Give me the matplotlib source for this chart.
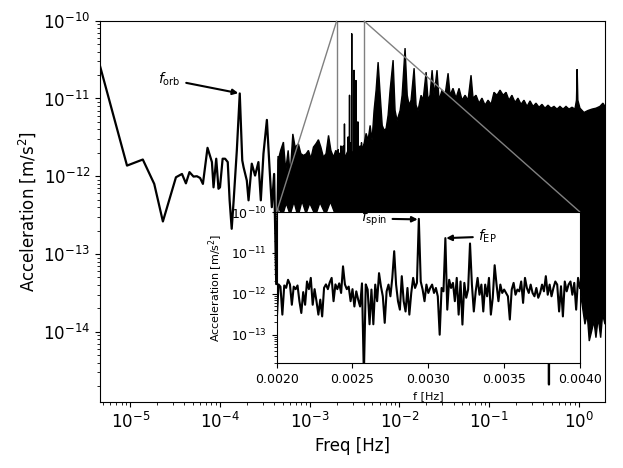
import numpy as np
import matplotlib
matplotlib.use("Agg")
import matplotlib.pyplot as plt
from matplotlib.patches import Rectangle
from matplotlib.ticker import MultipleLocator, FormatStrFormatter
from mpl_toolkits.axes_grid1.inset_locator import mark_inset

# ---------------- data ----------------
# low-frequency part of the spectrum (individual points visible)
low_f = [4.6e-6, 9.2e-6, 1.38e-5, 1.85e-5, 2.31e-5, 3.23e-5, 3.77e-5, 4.17e-5,
         4.57e-5, 5.07e-5, 5.53e-5, 6.0e-5, 6.45e-5, 7.26e-5, 8.13e-5, 8.47e-5,
         9.08e-5, 9.62e-5, 1.0e-4, 1.07e-4, 1.14e-4, 1.22e-4, 1.28e-4, 1.35e-4,
         1.42e-4, 1.54e-4, 1.66e-4, 1.77e-4, 1.83e-4, 1.99e-4, 2.08e-4, 2.26e-4,
         2.46e-4, 2.68e-4, 2.85e-4, 3.05e-4, 3.33e-4, 3.56e-4, 3.78e-4, 4.01e-4,
         4.23e-4, 4.48e-4]
low_a = [2.62e-11, 1.37e-12, 1.64e-12, 7.97e-13, 2.62e-13, 9.7e-13, 1.07e-12, 8.1e-13,
         1.13e-12, 9.9e-13, 1.0e-12, 9.5e-13, 7.97e-13, 2.32e-12, 1.52e-12, 7.2e-13,
         1.68e-12, 6.9e-13, 7.2e-13, 1.68e-12, 1.68e-12, 1.52e-12, 4.9e-13, 2.11e-13,
         4.9e-13, 2.15e-12, 1.16e-11, 1.6e-12, 1.31e-12, 8.8e-13, 4.9e-13, 1.45e-12,
         1.02e-12, 1.52e-12, 4.9e-13, 1.95e-12, 5.3e-12, 1.31e-12, 4.0e-13, 1.07e-12,
         4.1e-14, 1.76e-12]

# dense high-frequency band: upper envelope
up_f = [4.45e-4, 4.74e-4, 5.09e-4, 5.4e-4, 5.75e-4, 6.05e-4, 6.48e-4, 6.87e-4,
        7.48e-4, 7.96e-4, 8.51e-4, 9.12e-4, 9.67e-4, 1.03e-3, 1.1e-3, 1.18e-3,
        1.25e-3, 1.33e-3, 1.42e-3, 1.52e-3, 1.62e-3, 1.72e-3, 1.84e-3, 1.95e-3,
        2.1e-3, 2.3e-3, 2.5e-3, 2.7e-3, 2.9e-3, 3.1e-3, 3.3e-3, 3.5e-3, 3.7e-3, 3.9e-3,
        4.04e-3, 4.25e-3, 4.47e-3, 4.71e-3, 4.95e-3, 5.21e-3, 5.49e-3, 5.78e-3,
        6.1e-3, 6.42e-3, 6.75e-3, 7.1e-3, 7.47e-3, 7.86e-3, 8.49e-3, 8.93e-3,
        9.4e-3, 1.016e-2, 1.07e-2, 1.154e-2, 1.22e-2, 1.28e-2, 1.346e-2, 1.455e-2,
        1.53e-2, 1.61e-2, 1.74e-2, 1.833e-2, 1.98e-2, 2.08e-2, 2.19e-2, 2.31e-2,
        2.43e-2, 2.62e-2, 2.76e-2, 2.98e-2, 3.22e-2, 3.48e-2, 3.66e-2, 3.95e-2,
        4.27e-2, 4.61e-2, 4.98e-2, 5.38e-2, 5.81e-2, 6.27e-2, 6.6e-2, 7.13e-2,
        7.7e-2, 8.3e-2, 8.98e-2, 9.7e-2, 0.105, 0.113, 0.122, 0.132, 0.143, 0.154,
        0.166, 0.179, 0.194, 0.209, 0.226, 0.244, 0.264, 0.285, 0.308, 0.332, 0.359,
        0.387, 0.418, 0.452, 0.488, 0.527, 0.569, 0.614, 0.664, 0.717, 0.774, 0.836,
        0.902, 0.938, 0.955, 0.972, 1.026, 1.137, 1.26, 1.40, 1.55, 1.71, 1.85, 1.95]
up_a = [1.6e-12, 2.15e-12, 2.75e-12, 1.19e-12, 2.15e-12, 1.02e-12, 3.5e-12, 2.37e-12,
        2.6e-12, 1.95e-12, 1.85e-12, 1.94e-12, 2.15e-12, 1.69e-12, 2.37e-12, 2.64e-12,
        2.95e-12, 2.37e-12, 1.76e-12, 1.95e-12, 3.35e-12, 2.15e-12, 1.76e-12, 2.15e-12,
        1.9e-12, 2.1e-12, 1.8e-12, 2.2e-12, 2.0e-12, 2.1e-12, 1.9e-12, 2.2e-12, 2.3e-12, 2.4e-12,
        2.64e-12, 3.56e-12, 2.9e-12, 4.5e-12, 2.9e-12, 7.0e-12, 1.28e-11, 2.93e-11,
        1.1e-11, 4.5e-12, 3.9e-12, 4.1e-12, 6.1e-12, 1.28e-11, 3.11e-11, 7.0e-12,
        5.2e-12, 7.0e-12, 1.1e-11, 4.44e-11, 1.1e-11, 8.2e-12, 9.5e-12, 2.45e-11,
        8.2e-12, 7.0e-12, 1.1e-11, 9.5e-12, 2.18e-11, 9.5e-12, 1.1e-11, 2.31e-11,
        1.1e-11, 2.31e-11, 9.5e-12, 1.28e-11, 1.1e-11, 2.11e-11, 1.1e-11, 1.35e-11,
        1.01e-11, 1.35e-11, 9.5e-12, 1.1e-11, 9.5e-12, 1.99e-11, 1.01e-11, 1.1e-11,
        8.7e-12, 1.01e-11, 8.2e-12, 9.5e-12, 8.4e-12, 1.2e-11, 1.1e-11, 1.28e-11, 1.1e-11, 1.2e-11,
        9.5e-12, 1.1e-11, 8.9e-12, 1.01e-11, 8.4e-12, 9.5e-12, 7.9e-12, 9.3e-12, 7.9e-12, 8.7e-12, 7.7e-12,
        8.4e-12, 7.5e-12, 8.2e-12, 7.5e-12, 7.9e-12, 7.3e-12, 7.9e-12, 7.3e-12, 7.9e-12, 7.3e-12, 7.7e-12,
        7.3e-12, 9.5e-12, 2.38e-11, 9.5e-12, 7.5e-12, 6.6e-12, 7.0e-12, 7.3e-12, 7.5e-12, 7.9e-12, 8.7e-12, 7.9e-12]

# dense high-frequency band: lower envelope
lo_f = [4.45e-4, 4.93e-4, 5.47e-4, 6.05e-4, 6.68e-4, 7.4e-4, 8.2e-4, 9.1e-4,
        1.0e-3, 1.16e-3, 1.3e-3, 1.5e-3, 1.7e-3, 1.97e-3, 2.2e-3, 1.0e-2, 0.1, 1.0,
        1.07, 1.166, 1.237, 1.302, 1.385, 1.469, 1.546, 1.64, 1.745, 1.835, 1.95]
lo_a = [4.2e-13, 3.0e-13, 4.5e-13, 3.2e-13, 4.7e-13, 3.0e-13, 4.8e-13, 3.3e-13,
        4.5e-13, 3.1e-13, 4.6e-13, 3.2e-13, 4.7e-13, 3.0e-13, 1e-13, 5e-14, 5e-14, 5e-14,
        2.5e-14, 1.25e-14, 1.68e-14, 7.6e-15, 1.02e-14, 1.37e-14, 8.4e-15, 1.52e-14,
        8.4e-15, 1.68e-14, 1.25e-14]

# deep single-bin dip near 0.46 Hz
dip_f = [0.458, 0.463, 0.468]
dip_a = [5e-14, 2.1e-15, 5e-14]

# zoomed band 2-4 mHz (evenly spaced bins)
ins_lo, ins_hi = 0.002, 0.004
ins_a = [2.1e-13, 1.7e-12, 1.5e-12, 3.1e-13, 1.6e-12, 1.4e-12, 2.2e-12, 1.7e-12, 5.4e-13, 1.5e-12,
         1.3e-12, 1.6e-12, 6.6e-13, 3.4e-13, 1.1e-12, 5.4e-13, 2.0e-12, 1.3e-12, 2.45e-12, 5.4e-13,
         1.3e-12, 6.6e-13, 3.1e-13, 7.2e-13, 2.8e-13, 1.4e-12, 1.7e-12, 1.3e-12, 1.9e-12, 2.45e-12,
         6.6e-13, 1.7e-12, 1.3e-12, 1.8e-12, 1.05e-12, 4.7e-12, 1.7e-12, 1.3e-12, 1.5e-12, 6.6e-13,
         1.3e-12, 4.9e-13, 1.15e-12, 7.2e-13, 4.9e-13, 1.8e-12, 1.0e-14, 1.7e-12, 1.27e-12, 1.8e-13,
         1.27e-12, 1.8e-13, 1.68e-12, 6.6e-13, 3.2e-12, 1.53e-12, 8.7e-13, 1.95e-13, 1.15e-12, 1.68e-12,
         8.7e-13, 2.45e-12, 1.1e-11, 1.68e-12, 6.6e-13, 4.1e-13, 2.7e-12, 6.6e-13, 3.7e-13, 1.39e-12,
         3.1e-13, 1.05e-12, 2.45e-12, 1.39e-12, 1.85e-12, 6.8e-11, 2.0e-12, 1.27e-12, 6.6e-13, 1.68e-12,
         1.05e-12, 1.39e-12, 1.68e-12, 1.05e-12, 1.39e-12, 8.7e-13, 1.0e-13, 1.39e-12, 1.15e-12, 2.3e-11,
         4.1e-13, 2.2e-12, 1.39e-12, 1.85e-12, 6.6e-13, 2.45e-12, 3.1e-13, 2.0e-12, 1.77e-13, 1.85e-12,
         8.0e-13, 1.27e-12, 1.7e-11, 1.68e-12, 3.7e-13, 1.15e-12, 2.45e-12, 9.5e-13, 1.68e-12, 3.7e-13,
         1.68e-12, 8.7e-13, 2.45e-12, 3.1e-13, 8.0e-13, 5.0e-12, 1.68e-12, 6.6e-13, 1.68e-12, 1.05e-12,
         1.27e-12, 1.05e-12, 8.7e-13, 2.35e-13, 1.27e-12, 1.85e-12, 9.5e-13, 1.27e-12, 1.15e-12, 2.0e-12,
         6.0e-13, 2.45e-12, 1.39e-12, 1.05e-12, 1.68e-12, 1.05e-12, 8.7e-13, 1.39e-12, 8.0e-13, 1.05e-12,
         1.68e-12, 1.15e-12, 2.7e-12, 9.5e-13, 1.68e-12, 8.7e-13, 1.39e-12, 2.0e-12, 1.68e-12, 3.7e-13,
         1.53e-12, 2.8e-13, 2.0e-12, 1.15e-12, 1.68e-12, 2.0e-12, 9.5e-13, 1.85e-12, 4.1e-13, 2.45e-12,
         1.39e-12]
ins_f = np.linspace(ins_lo, ins_hi, len(ins_a))
ins_xticks = [0.0020, 0.0025, 0.0030, 0.0035, 0.0040]

main_xlim = (4.6e-6, 1.95)
main_ylim = (1.25e-15, 1e-10)
ins_ylim = (2e-14, 1e-10)
box_bottom = 1e-13

# ---------------- figure ----------------
fig = plt.figure(figsize=(6.23, 4.68), dpi=100)
ax = fig.add_axes([0.1605, 0.141, 0.8106, 0.8148])

ax.fill(np.r_[up_f, lo_f[::-1]], np.r_[up_a, lo_a[::-1]], color='black', lw=1, zorder=2)
ax.plot(low_f, low_a, color='black', lw=1.6, zorder=3)
ax.plot(ins_f, ins_a, color='black', lw=1.0, zorder=3)
ax.plot(dip_f, dip_a, color='black', lw=1.6, zorder=3)
ax.set_xscale('log')
ax.set_yscale('log')
ax.set_xlim(*main_xlim)
ax.set_ylim(*main_ylim)
ax.set_xlabel('Freq [Hz]', fontsize=12)
ax.set_ylabel('Acceleration [m/s$^2$]', fontsize=12)
ax.tick_params(labelsize=12)

ax.annotate(r'$f_{\rm orb}$', xy=(1.6e-4, 1.17e-11), xytext=(2.05e-5, 1.75e-11),
            fontsize=10, ha='left', va='center',
            arrowprops=dict(arrowstyle='-|>', color='black', lw=1.5,
                            mutation_scale=8, shrinkA=2, shrinkB=0))

# inset
axins = fig.add_axes([0.4441, 0.2237, 0.4868, 0.3233])
axins.plot(ins_f, ins_a, color='black', lw=1.5)
axins.set_yscale('log')
axins.set_xlim(ins_lo, ins_hi)
axins.set_ylim(*ins_ylim)
axins.set_xticks(ins_xticks)
axins.xaxis.set_major_formatter(FormatStrFormatter('%.4f'))
axins.set_xlabel('f [Hz]', fontsize=8)
axins.set_ylabel('Acceleration [m/s$^2$]', fontsize=8)
axins.tick_params(labelsize=9)

axins.annotate(r'$f_{\rm spin}$', xy=(0.00293, 6.6e-11), xytext=(0.002555, 6.9e-11),
               fontsize=10, ha='left', va='center',
               arrowprops=dict(arrowstyle='-|>', color='black', lw=1.5,
                               mutation_scale=8, shrinkA=2, shrinkB=0))
axins.annotate(r'$f_{\rm EP}$', xy=(0.003118, 2.3e-11), xytext=(0.00333, 2.5e-11),
               fontsize=10, ha='left', va='center',
               arrowprops=dict(arrowstyle='-|>', color='black', lw=1.5,
                               mutation_scale=8, shrinkA=2, shrinkB=0))

pp, p1, p2 = mark_inset(ax, axins, loc1=2, loc2=1, fc='none', ec='0.5', lw=1)
pp.remove()
ax.add_patch(Rectangle((ins_lo, box_bottom), ins_hi - ins_lo, main_ylim[1] - box_bottom,
                       fill=False, ec='0.5', lw=1, zorder=1))

fig.savefig('out.png', dpi=100)
